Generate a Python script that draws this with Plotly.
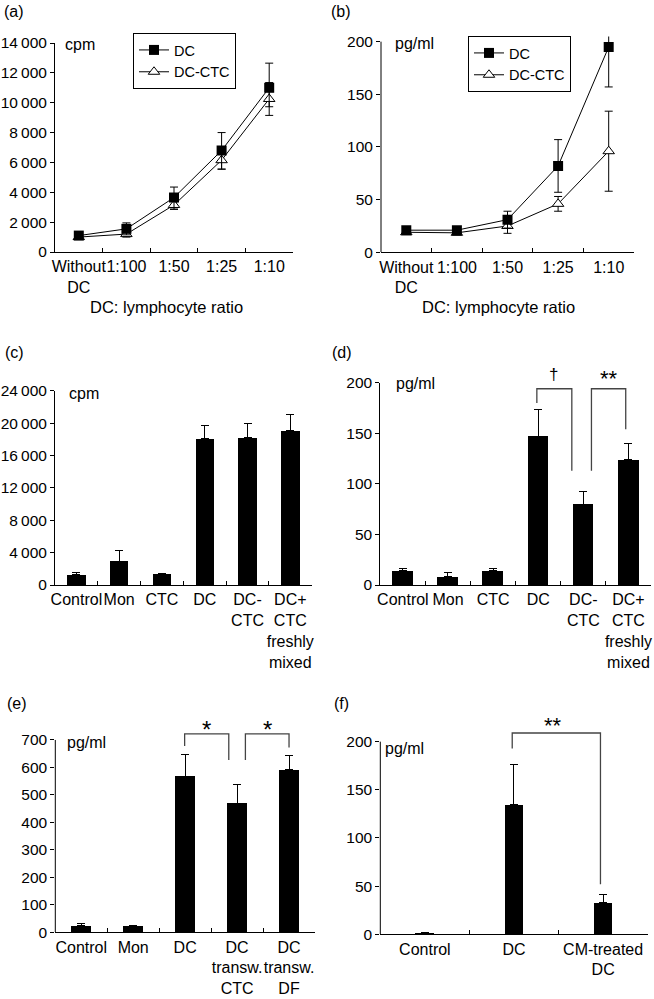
import plotly.graph_objects as go

FONT = "Liberation Sans, Arial, Helvetica, sans-serif"
TS = "\u2009"

# ---------------- data ----------------
# (a) proliferation, cpm
ratio_labels = ["Without<br>DC", "1:100", "1:50", "1:25", "1:10"]
a_dc = [1100, 1550, 3650, 6800, 11000]
a_dc_err_plus = [100, 400, 700, 1200, 1650]
a_dc_err_minus = [100, 400, 700, 1250, 1270]
a_ctc = [1000, 1200, 3150, 6150, 10250]
a_ctc_err = [100, 200, 300, 600, 1100]
a_yticks = [0, 2000, 4000, 6000, 8000, 10000, 12000, 14000]
a_yticktext = ["0", "2" + TS + "000", "4" + TS + "000", "6" + TS + "000", "8" + TS + "000",
               "10" + TS + "000", "12" + TS + "000", "14" + TS + "000"]

# (b) pg/ml
b_dc = [21, 21, 31, 82, 195]
b_dc_err = [2, 2, 8, 25, 38]
b_ctc = [19, 18.5, 25, 46, 96]
b_ctc_err = [2, 2, 7, 7, 38]
b_yticks = [0, 50, 100, 150, 200]

# (c) cpm, (d) pg/ml
cd_labels = ["Control", "Mon", "CTC", "DC", "DC-<br>CTC", "DC+<br>CTC<br>freshly<br>mixed"]
c_vals = [1320, 2960, 1400, 18120, 18240, 19060]
c_err = [250, 1280, 0, 1600, 1650, 2020]
c_yticks = [0, 4000, 8000, 12000, 16000, 20000, 24000]
c_yticktext = ["0", "4" + TS + "000", "8" + TS + "000", "12" + TS + "000",
               "16" + TS + "000", "20" + TS + "000", "24" + TS + "000"]
d_vals = [14.2, 8.6, 14.2, 147.3, 80, 123.6]
d_err = [2, 4, 2.3, 26.4, 12.6, 16.4]
d_yticks = [0, 50, 100, 150, 200]

# (e) pg/ml
e_labels = ["Control", "Mon", "DC", "DC<br>transw.<br>CTC", "DC<br>transw.<br>DF"]
e_vals = [24, 24, 568, 470, 592]
e_err = [7, 2, 80, 69, 50]
e_yticks = [0, 100, 200, 300, 400, 500, 600, 700]

# (f) pg/ml
f_labels = ["Control", "DC", "CM-treated<br>DC"]
f_vals = [1.0, 134.6, 32.5]
f_err = [0.6, 42, 9]
f_yticks = [0, 50, 100, 150, 200]

# ---------------- figure ----------------
W, H = 654, 999


def px_x(p):
    return p / W


def px_y(p):
    return 1 - p / H


fig = go.Figure()

err_style = dict(color="black", thickness=1, width=4)

# (a)
fig.add_trace(go.Scatter(
    x=ratio_labels, y=a_ctc, name="DC-CTC", mode="lines+markers",
    line=dict(color="black", width=1),
    marker=dict(symbol="triangle-up", size=10, color="white", line=dict(color="black", width=1)),
    error_y=dict(type="data", array=a_ctc_err, **err_style),
    xaxis="x", yaxis="y", legend="legend", legendrank=2))
fig.add_trace(go.Scatter(
    x=ratio_labels, y=a_dc, name="DC", mode="lines+markers",
    line=dict(color="black", width=1),
    marker=dict(symbol="square", size=10, color="black"),
    error_y=dict(type="data", symmetric=False, array=a_dc_err_plus,
                 arrayminus=a_dc_err_minus, **err_style),
    xaxis="x", yaxis="y", legend="legend", legendrank=1))

# (b)
fig.add_trace(go.Scatter(
    x=ratio_labels, y=b_ctc, name="DC-CTC", mode="lines+markers",
    line=dict(color="black", width=1),
    marker=dict(symbol="triangle-up", size=10, color="white", line=dict(color="black", width=1)),
    error_y=dict(type="data", array=b_ctc_err, **err_style),
    xaxis="x2", yaxis="y2", legend="legend2", legendrank=2))
fig.add_trace(go.Scatter(
    x=ratio_labels, y=b_dc, name="DC", mode="lines+markers",
    line=dict(color="black", width=1),
    marker=dict(symbol="square", size=10, color="black"),
    error_y=dict(type="data", array=b_dc_err, **err_style),
    xaxis="x2", yaxis="y2", legend="legend2", legendrank=1))


def bar(x, y, err, ax, width):
    return go.Bar(x=x, y=y, width=width, marker=dict(color="black", line=dict(width=0)),
                  error_y=dict(type="data", symmetric=False, array=err,
                               arrayminus=[0] * len(err), **err_style),
                  xaxis="x" + ax, yaxis="y" + ax, showlegend=False)


fig.add_trace(bar(cd_labels, c_vals, c_err, "3", 0.43))
fig.add_trace(bar(cd_labels, d_vals, d_err, "4", 0.46))
fig.add_trace(bar(e_labels, e_vals, e_err, "5", 0.385))
fig.add_trace(bar(f_labels, f_vals, f_err, "6", 0.206))

TICKF = dict(family=FONT, size=15.5, color="black")
CATF = dict(family=FONT, size=16, color="black")


def xax(domain, n, anchor):
    return dict(domain=domain, anchor=anchor, type="category", range=[-0.5, n - 0.5],
                showline=True, linecolor="black", linewidth=1, ticks="inside",
                tickson="boundaries", ticklen=4, tickcolor="black", tickwidth=1,
                tickangle=0, automargin=False,
                showgrid=False, zeroline=False, tickfont=CATF, fixedrange=True)


def yax(domain, rng, tv, tt, anchor, showline=True):
    return dict(domain=domain, anchor=anchor, range=rng, tickvals=tv, ticktext=tt,
                showline=showline, linecolor="black", linewidth=1, ticks="outside",
                ticklen=4, tickcolor="black", tickwidth=1, showgrid=False, automargin=False,
                zeroline=False, tickfont=TICKF, fixedrange=True)


b_tt = [str(v) for v in b_yticks]
d_tt = [str(v) for v in d_yticks]
e_tt = [str(v) for v in e_yticks]
f_tt = [str(v) for v in f_yticks]

fig.update_layout(
    width=W, height=H, margin=dict(l=0, r=0, t=0, b=0, autoexpand=False),
    paper_bgcolor="white", plot_bgcolor="white",
    font=dict(family=FONT, color="black"),
    bargap=0,
    xaxis=xax([px_x(55), px_x(293)], 5, "y"),
    yaxis=yax([px_y(252), px_y(43)], [0, 14000], a_yticks, a_yticktext, "x"),
    xaxis2=xax([px_x(381), px_x(634)], 5, "y2"),
    yaxis2=yax([px_y(252.3), px_y(36.4)], [0, 205], b_yticks, b_tt, "x2", showline=False),
    xaxis3=xax([px_x(55), px_x(311.7)], 6, "y3"),
    yaxis3=yax([px_y(585), px_y(390.7)], [0, 24000], c_yticks, c_yticktext, "x3"),
    xaxis4=xax([px_x(380.3), px_x(651)], 6, "y4"),
    yaxis4=yax([px_y(585), px_y(382.7)], [0, 200], d_yticks, d_tt, "x4"),
    xaxis5=xax([px_x(55.3), px_x(315)], 5, "y5"),
    yaxis5=yax([px_y(932.3), px_y(733.1)], [0, 725], e_yticks, e_tt, "x5", showline=False),
    xaxis6=xax([px_x(380.3), px_x(647.7)], 3, "y6"),
    yaxis6=yax([px_y(934.3), px_y(730.1)], [0, 212], f_yticks, f_tt, "x6", showline=False),
    legend=dict(x=px_x(133), y=px_y(33), xanchor="left", yanchor="top",
                bordercolor="black", borderwidth=1, bgcolor="white",
                font=dict(family=FONT, size=14.5, color="black"), traceorder="normal"),
    legend2=dict(x=px_x(468), y=px_y(36), xanchor="left", yanchor="top",
                 bordercolor="black", borderwidth=1, bgcolor="white",
                 font=dict(family=FONT, size=14.5, color="black"), traceorder="normal"),
)

shapes = []
# y axis lines that stop at the top tick
for ax, top in [("2", 200), ("5", 700), ("6", 200)]:
    shapes.append(dict(type="line", xref="x%s domain" % ax, yref="y" + ax,
                       x0=0, x1=0, y0=0, y1=top, line=dict(color="black", width=1)))

BR = dict(color="#444", width=1.3)


def bracket(ax, x0, y0, x1, y1, ytop):
    return dict(type="path", xref="x" + ax, yref="y" + ax,
                path="M %s,%s L %s,%s L %s,%s L %s,%s" % (x0, y0, x0, ytop, x1, ytop, x1, y1),
                line=BR)


shapes.append(bracket("4", 2.97, 180, 3.745, 113, 194))
shapes.append(bracket("4", 4.18, 113, 4.94, 154, 194))
shapes.append(bracket("5", 1.99, 678, 2.84, 627, 722))
shapes.append(bracket("5", 3.16, 627, 4.0, 673, 722))
shapes.append(bracket("6", 0.98, 193, 1.97, 52, 209))
fig.update_layout(shapes=shapes)

ann = []


def txt(x, y, text, size=16, xanchor="left", yanchor="middle", xref="paper", yref="paper",
        yshift=0):
    ann.append(dict(x=x, y=y, xref=xref, yref=yref, text=text, showarrow=False,
                    xanchor=xanchor, yanchor=yanchor, yshift=yshift,
                    font=dict(family=FONT, size=size, color="black")))


# panel letters
txt(px_x(2), px_y(12), "(a)")
txt(px_x(329), px_y(12), "(b)")
txt(px_x(3), px_y(352), "(c)")
txt(px_x(330), px_y(353), "(d)")
txt(px_x(5), px_y(703), "(e)")
txt(px_x(332), px_y(703), "(f)")
# units
txt(px_x(63), px_y(44), "cpm")
txt(px_x(393), px_y(43), "pg/ml")
txt(px_x(67), px_y(393), "cpm")
txt(px_x(394), px_y(383), "pg/ml")
txt(px_x(65), px_y(742), "pg/ml")
txt(px_x(383), px_y(748), "pg/ml")
# axis titles
txt(px_x(166), px_y(307), "DC: lymphocyte ratio", size=16.5, xanchor="center")
txt(px_x(498), px_y(307), "DC: lymphocyte ratio", size=16.5, xanchor="center")
# significance marks (y given as value / axis maximum, in the axis domain)
txt(3.34, 208 / 200, "\u2020", size=17, xanchor="center", xref="x4", yref="y4 domain")
txt(4.56, 209 / 200, "**", size=22, xanchor="center", xref="x4", yref="y4 domain", yshift=-5)
txt(2.41, 761 / 725, "*", size=24, xanchor="center", xref="x5", yref="y5 domain", yshift=-6)
txt(3.59, 761 / 725, "*", size=24, xanchor="center", xref="x5", yref="y5 domain", yshift=-6)
txt(1.44, 222 / 212, "**", size=22, xanchor="center", xref="x6", yref="y6 domain", yshift=-5)
fig.update_layout(annotations=ann)

fig.write_html("out.html", config={"displayModeBar": False},
               post_script="document.body.style.margin='0';document.body.style.overflow='hidden';")
